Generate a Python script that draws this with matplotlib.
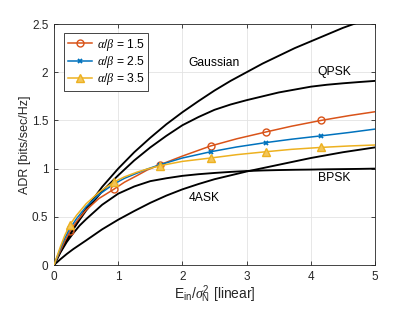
import numpy as np
import matplotlib
matplotlib.use('Agg')
import matplotlib.pyplot as plt

plt.rcParams['font.family'] = ['Liberation Sans', 'DejaVu Sans']
plt.rcParams['mathtext.fontset'] = 'custom'
plt.rcParams['mathtext.rm'] = 'Liberation Sans'
plt.rcParams['mathtext.it'] = 'Liberation Serif:italic'
plt.rcParams['mathtext.bf'] = 'Liberation Sans:bold'

# curvas de referência
x_ref = [0, 0.05, 0.1, 0.2, 0.3, 0.4, 0.5, 0.75, 1, 1.25, 1.5, 1.75, 2, 2.25, 2.5,
         2.75, 3, 3.25, 3.5, 3.75, 4, 4.25, 4.5, 4.75, 5]
gaussiana = [0, 0.07, 0.14, 0.26, 0.38, 0.485, 0.585, 0.81, 1.0, 1.17, 1.32, 1.46, 1.585,
             1.70, 1.81, 1.91, 2.0, 2.09, 2.17, 2.25, 2.32, 2.39, 2.46, 2.52, 2.58]
qpsk = [0, 0.07, 0.14, 0.26, 0.37, 0.47, 0.565, 0.765, 0.93, 1.085, 1.22, 1.34, 1.45,
        1.535, 1.61, 1.665, 1.71, 1.75, 1.79, 1.82, 1.85, 1.87, 1.885, 1.898, 1.91]
bpsk = [0, 0.066, 0.13, 0.24, 0.33, 0.41, 0.475, 0.625, 0.74, 0.815, 0.87, 0.90, 0.925,
        0.942, 0.955, 0.966, 0.975, 0.981, 0.985, 0.988, 0.99, 0.993, 0.995, 0.997, 1.0]
ask4 = [0, 0.03, 0.06, 0.115, 0.165, 0.21, 0.255, 0.37, 0.47, 0.56, 0.645, 0.72, 0.785,
        0.84, 0.89, 0.93, 0.97, 1.005, 1.04, 1.075, 1.11, 1.14, 1.17, 1.195, 1.22]

# curvas alpha/beta
x_ab = [0, 0.05, 0.1, 0.17, 0.25, 0.35, 0.5, 0.7, 0.93, 1.1, 1.3, 1.45, 1.65, 2.0,
        2.44, 2.85, 3.3, 3.7, 4.16, 4.6, 5.0]
ab_15 = [0, 0.075, 0.15, 0.25, 0.35, 0.45, 0.57, 0.69, 0.785, 0.86, 0.93, 0.985, 1.04,
         1.13, 1.235, 1.31, 1.38, 1.44, 1.50, 1.55, 1.59]
ab_25 = [0, 0.085, 0.17, 0.28, 0.38, 0.48, 0.605, 0.73, 0.84, 0.9, 0.955, 0.995, 1.04,
         1.11, 1.175, 1.225, 1.27, 1.305, 1.34, 1.375, 1.41]
ab_35 = [0, 0.095, 0.19, 0.31, 0.42, 0.515, 0.635, 0.755, 0.86, 0.915, 0.965, 0.995, 1.03,
         1.075, 1.11, 1.145, 1.175, 1.20, 1.22, 1.235, 1.245]
marcas = [4, 8, 12, 14, 16, 18]

fig = plt.figure(figsize=(4.15, 3.12), dpi=100)
ax = fig.add_axes([0.1301, 0.1506, 0.7735, 0.7724])

for y in [gaussiana, qpsk, bpsk, ask4]:
    ax.plot(x_ref, y, color='black', lw=1.35, zorder=3)

ax.plot(x_ab, ab_15, color='#D95319', lw=1.1, marker='o', ms=5, mfc='none', mew=1.0,
        markevery=marcas, label=r'$\alpha/\beta$ = 1.5', zorder=4)
ax.plot(x_ab, ab_25, color='#0072BD', lw=1.1, marker='x', ms=3.5, mew=1.3,
        markevery=marcas, label=r'$\alpha/\beta$ = 2.5', zorder=4)
ax.plot(x_ab, ab_35, color='#EDB120', lw=1.1, marker='^', ms=6, mfc='#F3C65A', mec='#EDB120',
        markevery=marcas, label=r'$\alpha/\beta$ = 3.5', zorder=4)

fs = 8.75
ax.text(2.1, 2.1, 'Gaussian', fontsize=fs, va='center', ha='left')
ax.text(4.11, 2.0, 'QPSK', fontsize=fs, va='center', ha='left')
ax.text(4.11, 0.9, 'BPSK', fontsize=fs, va='center', ha='left')
ax.text(2.1, 0.69, '4ASK', fontsize=fs, va='center', ha='left')

ax.set_xlim(0, 5)
ax.set_ylim(0, 2.5)
ax.set_xticks([0, 1, 2, 3, 4, 5])
ax.set_xticklabels(['0', '1', '2', '3', '4', '5'])
ax.set_yticks([0, 0.5, 1, 1.5, 2, 2.5])
ax.set_yticklabels(['0', '0.5', '1', '1.5', '2', '2.5'])
ax.tick_params(direction='in', length=3, width=0.6, top=True, right=True,
               labelsize=8.5, colors='#262626', pad=4)
ax.grid(True, color='#e3e3e3', lw=0.6)
ax.set_axisbelow(True)
for s in ax.spines.values():
    s.set_color('#262626')
    s.set_linewidth(0.6)

ax.set_xlabel(r'E$_{\rm in}$/$\sigma^2_{\rm N}$ [linear]', fontsize=10, color='#262626', labelpad=0.5)
ax.set_ylabel('ADR [bits/sec/Hz]', fontsize=9, color='#262626', labelpad=1)

leg = ax.legend(loc='upper left', bbox_to_anchor=(0.031, 0.963), fontsize=8.75,
                handlelength=2.0, borderaxespad=0, fancybox=False, framealpha=1,
                edgecolor='#262626', borderpad=0.3, labelspacing=0.1, handletextpad=0.4)
leg.get_frame().set_linewidth(0.6)

fig.savefig('out.png', dpi=100)
